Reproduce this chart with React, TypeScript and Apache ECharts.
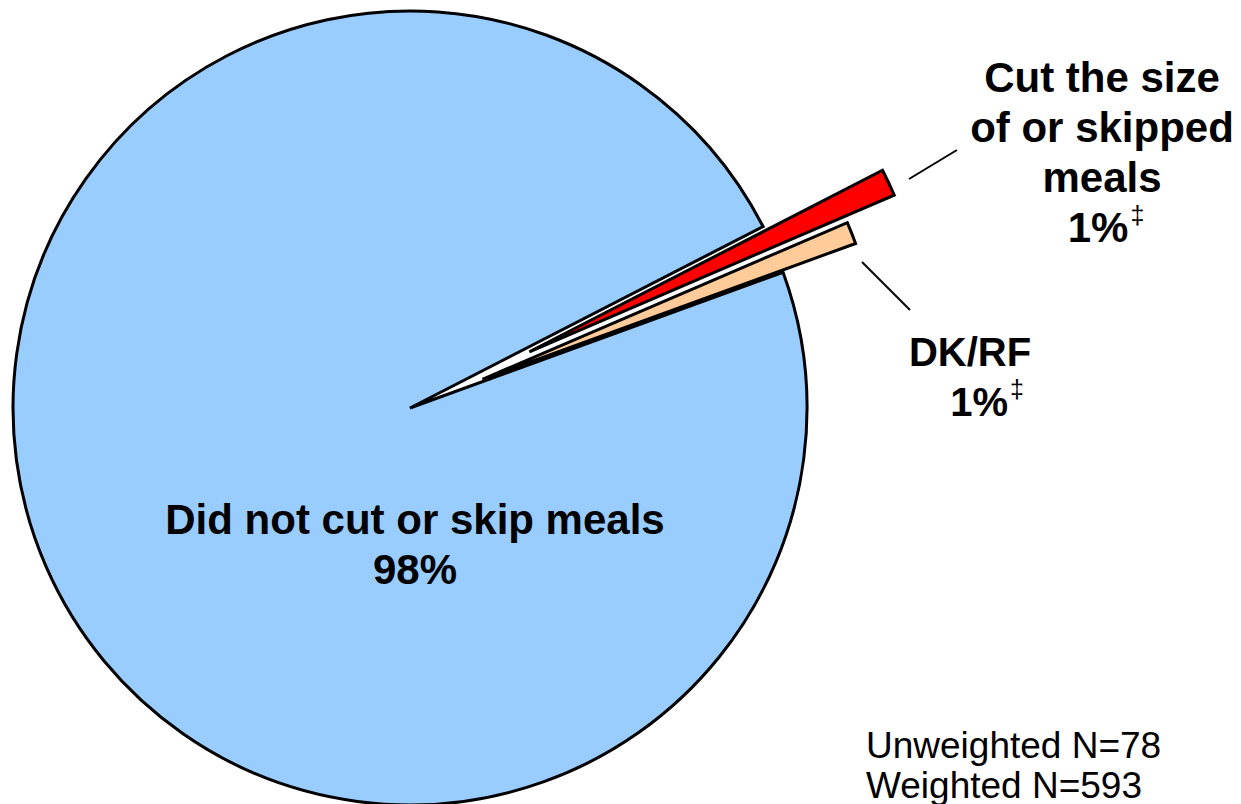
import React, { useEffect, useRef } from "react";
import * as echarts from "echarts";

const categories = ["Did not cut or skip meals", "Cut the size of or skipped meals", "DK/RF"];
const values = [98.0, 1.1, 0.9];
const percentLabels = ["98%", "1%", "1%"];
const footnoteMark = "‡";
const colors = ["#99CCFF", "#FF0000", "#FFCC99"];
const explodeOffsets = [0, 132, 78];
const drawOrder = [0, 2, 1];
const sampleNotes = ["Unweighted N=78", "Weighted N=593"];

const FONT = "'Liberation Sans', Arial, sans-serif";

export default function App() {
  const ref = useRef<HTMLDivElement>(null);
  useEffect(() => {
    if (!ref.current) return;
    const chart = echarts.init(ref.current, null, { renderer: "svg" });

    const series = drawOrder.map((vis) => ({
      type: "pie",
      center: [410, 408],
      radius: 397,
      startAngle: 20,
      clockwise: true,
      selectedMode: "multiple",
      selectedOffset: explodeOffsets[vis],
      silent: true,
      label: { show: false },
      labelLine: { show: false },
      emphasis: { disabled: true },
      data: categories.map((name, j) => ({
        name,
        value: values[j],
        selected: j === vis && explodeOffsets[vis] > 0,
        itemStyle:
          j === vis
            ? { color: colors[j], borderColor: "#000", borderWidth: 3, borderJoin: "miter", borderMiterLimit: 4 }
            : { color: "rgba(0,0,0,0)", borderWidth: 0 },
      })),
    }));

    const bold = (text: string, x: number, y: number, size: number, lh: number) => ({
      type: "text",
      x,
      y,
      z: 100,
      silent: true,
      style: {
        text,
        fontFamily: FONT,
        fontSize: size,
        fontWeight: "bold",
        fill: "#000",
        align: "center",
        verticalAlign: "top",
        lineHeight: lh,
        rich: {
          s: {
            fontFamily: FONT,
            fontSize: 25,
            fontWeight: "normal",
            fill: "#000",
            verticalAlign: "top",
            lineHeight: 25,
            padding: [0, 0, 0, 2],
          },
        },
      },
    });

    chart.setOption({
      animation: false,
      backgroundColor: "#fff",
      series,
      graphic: [
        bold(categories[0] + "\n" + percentLabels[0], 415, 494, 42, 50),
        bold("Cut the size\nof or skipped\nmeals", 1102, 52, 42, 50),
        bold(percentLabels[1] + "{s|" + footnoteMark + "}", 1106, 202, 42, 50),
        bold(categories[2], 970, 326, 40, 51),
        bold(percentLabels[2] + "{s|" + footnoteMark + "}", 987, 376, 40, 51),
        {
          type: "line",
          z: 100,
          silent: true,
          shape: { x1: 909, y1: 179, x2: 957, y2: 150 },
          style: { stroke: "#000", lineWidth: 2 },
        },
        {
          type: "line",
          z: 100,
          silent: true,
          shape: { x1: 862, y1: 262, x2: 910, y2: 310 },
          style: { stroke: "#000", lineWidth: 2 },
        },
        {
          type: "text",
          x: 866,
          y: 725,
          z: 100,
          silent: true,
          style: {
            text: sampleNotes.join("\n"),
            fontFamily: FONT,
            fontSize: 37,
            fill: "#000",
            align: "left",
            verticalAlign: "top",
            lineHeight: 40,
          },
        },
      ],
    });
    return () => chart.dispose();
  }, []);
  return <div ref={ref} style={{ position: "fixed", left: 0, top: 0, width: 1241, height: 804 }} />;
}
